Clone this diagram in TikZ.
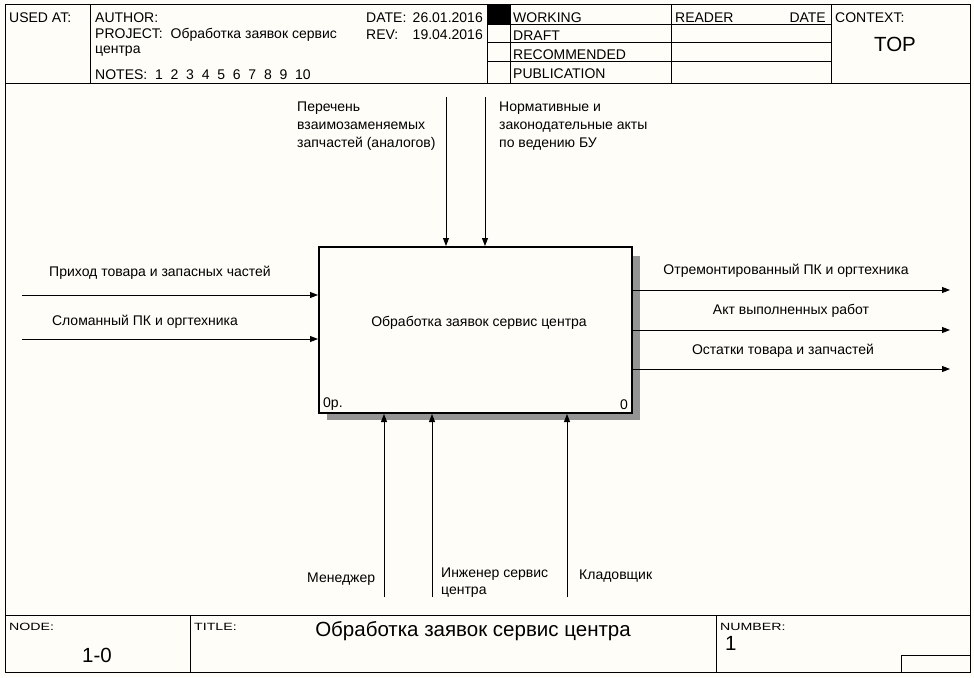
\documentclass[tikz,border=0pt]{standalone}
\usepackage{fontspec}
\setmainfont{Liberation Sans}
\newfontfamily\widesans[FakeStretch=1.35]{Liberation Sans}
\usetikzlibrary{arrows.meta,patterns}
\definecolor{bgc}{HTML}{FFFDF8}
\begin{document}
\begin{tikzpicture}[x=1pt,y=-1pt,
  txt/.style={font=\fontsize{14}{18}\selectfont, inner sep=0pt, anchor=west, align=left, yshift=-1.5pt},
  small/.style={font=\widesans\fontsize{10.5}{12}\selectfont, inner sep=0pt, anchor=west},
  big/.style={font=\fontsize{20.5}{22}\selectfont, inner sep=0pt},
  frame/.style={line width=1pt},
  arr/.style={line width=0.9pt, -{Triangle[length=8pt,width=6pt]}},
  ln/.style={line width=0.9pt}]
\useasboundingbox (0,0) rectangle (974,677);
\fill[bgc] (0,0) rectangle (974,677);
% outer frame
\draw[frame] (5,5) rectangle (970,672);
\draw[frame] (5,83) -- (970,83);
\draw[frame] (5,615) -- (970,615);
% header columns
\draw[frame] (90,5) -- (90,83);
\draw[frame] (487,5) -- (487,83);
\draw[frame] (510,5) -- (510,83);
\draw[frame] (671,5) -- (671,83);
\draw[frame] (831,5) -- (831,83);
\draw[frame] (487,25) -- (831,25);
\draw[frame] (487,43) -- (831,43);
\draw[frame] (487,62) -- (831,62);
\fill[black] (487,5) rectangle (510,25);
% header text
\node[txt] (usedat) at (9,16) {USED AT:};
\node[txt] (author) at (95,16) {AUTHOR:};
\node[txt] (project) at (95,33) {PROJECT:\ \ Обработка заявок сервис};
\node[txt] (projcont) at (95,50) {центра};
\node[txt] (notes) at (95,73) {NOTES:\ \ 1\ \ 2\ \ 3\ \ 4\ \ 5\ \ 6\ \ 7\ \ 8\ \ 9\ \ 10};
\node[txt] (date) at (366,16) {DATE:};
\node[txt, anchor=east] (dateval) at (483,16) {26.01.2016};
\node[txt] (rev) at (366,33) {REV:};
\node[txt, anchor=east] (revval) at (483,33) {19.04.2016};
\node[txt] (working) at (513,16) {WORKING};
\node[txt] (draft) at (513,34) {DRAFT};
\node[txt] (recom) at (513,53) {RECOMMENDED};
\node[txt] (publ) at (513,72) {PUBLICATION};
\node[txt] (reader) at (675,16) {READER};
\node[txt, anchor=east] (rdate) at (826,16) {DATE};
\node[txt] (context) at (835,16) {CONTEXT:};
\node[big] (top) at (895,44) {TOP};
% footer
\draw[frame] (190,615) -- (190,672);
\draw[frame] (716,615) -- (716,672);
\draw[frame] (901,672) -- (901,655) -- (970,655);
\node[small] (nodelbl) at (9,627) {NODE:};
\node[big] (nodenum) at (97,655) {1-0};
\node[small] (titlelbl) at (194,627) {TITLE:};
\node[big] (title) at (473,631) {Обработка заявок сервис центра};
\node[small] (numlbl) at (720,627) {NUMBER:};
\node[big, anchor=west] (num) at (725,643) {1};
% shadow
\fill[black!42] (631,256) rectangle (640,420);
\fill[black!42] (327,412) rectangle (640,420);
% main box
\node[draw, line width=2pt, minimum width=313pt, minimum height=166pt, anchor=north west, inner sep=0pt, fill=bgc] (box) at (318,246) {};
\node[txt, anchor=center] (boxlbl) at (479,321) {Обработка заявок сервис центра};
\node[txt] (opcost) at (323,403) {0р.};
\node[txt, anchor=east] (boxnum) at (628,403) {0};
% inputs
\coordinate (i1) at (22,295);
\coordinate (i2) at (22,339);
\draw[arr] (i1) -- (box.west |- i1);
\draw[arr] (i2) -- (box.west |- i2);
\node[txt, anchor=center] (i1lbl) at (160,271) {Приход товара и запасных частей};
\node[txt, anchor=center] (i2lbl) at (145,320) {Сломанный ПК и оргтехника};
% outputs
\coordinate (o1) at (950,290);
\coordinate (o2) at (950,330);
\coordinate (o3) at (950,369);
\draw[arr] (box.east |- o1) -- (o1);
\draw[arr] (box.east |- o2) -- (o2);
\draw[arr] (box.east |- o3) -- (o3);
\node[txt, anchor=center] (o1lbl) at (786,269) {Отремонтированный ПК и оргтехника};
\node[txt, anchor=center] (o2lbl) at (791,309) {Акт выполненных работ};
\node[txt, anchor=center] (o3lbl) at (783,349) {Остатки товара и запчастей};
% controls
\coordinate (c1) at (446,97);
\coordinate (c2) at (485,97);
\draw[arr] (c1) -- (box.north -| c1);
\draw[arr] (c2) -- (box.north -| c2);
\node[txt, anchor=north west] (c1lbl) at (297,100) {Перечень\\взаимозаменяемых\\запчастей (аналогов)};
\node[txt, anchor=north west] (c2lbl) at (499,100) {Нормативные и\\законодательные акты\\по ведению БУ};
% mechanisms
\coordinate (m1) at (384,597);
\coordinate (m2) at (432,597);
\coordinate (m3) at (567,597);
\draw[arr] (m1) -- (box.south -| m1);
\draw[arr] (m2) -- (box.south -| m2);
\draw[arr] (m3) -- (box.south -| m3);
\node[txt] (m1lbl) at (307,578) {Менеджер};
\node[txt, anchor=north west, font=\fontsize{14}{17}\selectfont] (m2lbl) at (441,566) {Инженер сервис\\центра};
\node[txt] (m3lbl) at (579,575) {Кладовщик};
\end{tikzpicture}
\end{document}
